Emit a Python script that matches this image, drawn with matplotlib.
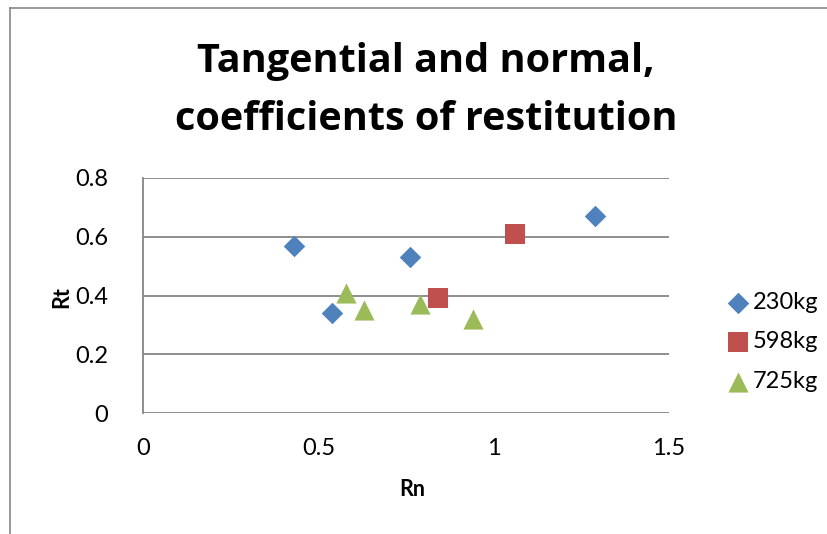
import matplotlib
matplotlib.use("Agg")
import matplotlib.pyplot as plt
from matplotlib.lines import Line2D

# Rn / Rt pairs per impact mass
rn_230 = [0.43, 0.54, 0.76, 1.29]
rt_230 = [0.57, 0.34, 0.53, 0.67]
rn_598 = [0.84, 1.06]
rt_598 = [0.39, 0.61]
rn_725 = [0.58, 0.63, 0.79, 0.94]
rt_725 = [0.41, 0.35, 0.37, 0.32]

x_ticks = [0, 0.5, 1, 1.5]
x_tick_labels = ["0", "0.5", "1", "1.5"]
y_ticks = [0, 0.2, 0.4, 0.6, 0.8]
y_tick_labels = ["0", "0.2", "0.4", "0.6", "0.8"]

plt.rcParams['font.family'] = ['Lato', 'DejaVu Sans']

W, H = 828, 534
fig = plt.figure(figsize=(W / 100, H / 100), dpi=100)

def fx(px):
    return px / W

def fy(py):
    return 1 - py / H

# chart frame (left and top edges)
fig.add_artist(Line2D([fx(10), fx(10)], [fy(8), fy(534)], color="#878787", lw=1.2))
fig.add_artist(Line2D([fx(10), fx(828)], [fy(8), fy(8)], color="#878787", lw=1.2))

ax = fig.add_axes([fx(143), fy(413), fx(669) - fx(143), fy(178) - fy(413)])
ax.set_xlim(0, 1.5)
ax.set_ylim(0, 0.8)

grid_c = "#868686"
for y in y_ticks:
    ax.axhline(y, color=grid_c, lw=1.3, zorder=1)
for s in ["top", "right", "bottom"]:
    ax.spines[s].set_visible(False)
ax.spines["left"].set_color(grid_c)
ax.spines["left"].set_linewidth(1.3)

ax.scatter(rn_230, rt_230, marker="D", s=120, color="#4F81BD", label="230kg", zorder=3, linewidths=0)
ax.scatter(rn_598, rt_598, marker="s", s=200, color="#C0504D", label="598kg", zorder=3, linewidths=0)
ax.scatter(rn_725, rt_725, marker="^", s=210, color="#9BBB59", label="725kg", zorder=3, linewidths=0)

ax.set_xticks(x_ticks)
ax.set_xticklabels(x_tick_labels)
ax.set_yticks(y_ticks)
ax.set_yticklabels(y_tick_labels)
ax.tick_params(axis="both", length=0, labelsize=17)
ax.tick_params(axis="x", pad=18)
ax.tick_params(axis="y", pad=25)

fig.text(fx(412), fy(490), "Rn", ha="center", va="center", fontsize=15.5, fontweight="bold")
fig.text(fx(62), fy(297), "Rt", ha="center", va="center", fontsize=15.5, fontweight="bold", rotation=90)

title_font = ['Open Sans', 'DejaVu Sans']
fig.text(fx(426), fy(72), "Tangential and normal,", ha="center", va="baseline",
         fontsize=28.5, fontweight="bold", family=title_font)
fig.text(fx(426), fy(130), "coefficients of restitution", ha="center", va="baseline",
         fontsize=28.5, fontweight="bold", family=title_font)

leg = ax.legend(loc="center left", bbox_to_anchor=(fx(716), fy(342)), bbox_transform=fig.transFigure,
                frameon=False, fontsize=17, handletextpad=0.05, labelspacing=0.78,
                handlelength=1.1, borderaxespad=0)

fig.savefig("out.png", dpi=100)
